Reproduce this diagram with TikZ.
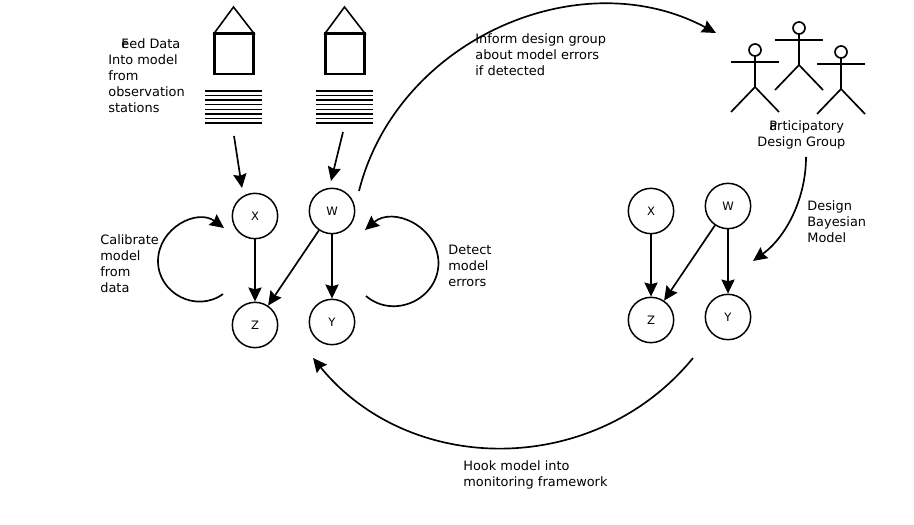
\documentclass[tikz,border=0pt]{standalone}
\usepackage{fontspec}
\setmainfont{DejaVu Sans}
\usetikzlibrary{arrows.meta}
\tikzset{varnode/.style={draw,circle,line width=0.85pt,minimum size=25.8pt,inner sep=0pt,font=\fontsize{6.6}{8}\selectfont},
  flowarrow/.style={-{Stealth[length=8pt,width=7.5pt,inset=1pt]},line width=0.95pt},
  infotext/.style={anchor=north west,align=left,inner sep=0pt,font=\fontsize{7.35}{9.1}\selectfont}}
\newcommand{\drawhouse}[1]{
\pgfmathsetmacro{\hx}{#1}
\draw[line width=0.9pt] (\hx-0.5,-7) -- (\hx-20,-33.5) -- (\hx+20,-33.5) -- cycle;
\draw[line width=1.3pt] (\hx-19.5,-33.5) rectangle (\hx+19.5,-74);
    \foreach \i in {0,1,...,7} {
      \draw[line width=0.8pt] (\hx-29,-91-4.57*\i) -- (\hx+28,-91-4.57*\i);
    }
}
\newcommand{\drawperson}[2]{
\pgfmathsetmacro{\px}{#1}
\pgfmathsetmacro{\py}{#2}
\draw[line width=0.95pt] (\px,\py) circle (6);
\draw[line width=0.95pt] (\px,\py-6) -- (\px,\py-37);
\draw[line width=0.95pt] (\px-24,\py-12) -- (\px+24,\py-12);
\draw[line width=0.95pt] (\px-24,\py-62) -- (\px,\py-37) -- (\px+24,\py-62);
}

\begin{document}
\begin{tikzpicture}[x=0.2mm,y=0.2mm]
	\useasboundingbox (0,0) rectangle (914,-525);
	\drawhouse{234}
	\drawhouse{345}
	\drawperson{755}{-50}
	\drawperson{799}{-28}
	\drawperson{841}{-52}
	% left network
	\node[varnode] (X) at (255,-216) {X};
	\node[varnode] (W) at (332,-211) {W};
	\node[varnode] (Z) at (255,-325) {Z};
	\node[varnode] (Y) at (332,-322) {Y};
	% right network
	\node[varnode] (X2) at (651,-211) {X};
	\node[varnode] (W2) at (728,-206) {W};
	\node[varnode] (Z2) at (651,-320) {Z};
	\node[varnode] (Y2) at (728,-317) {Y};
	\draw[flowarrow] (X) -- (Z);
	\draw[flowarrow] (W) -- (Z);
	\draw[flowarrow] (W) -- (Y);
	\draw[flowarrow] (X2) -- (Z2);
	\draw[flowarrow] (W2) -- (Z2);
	\draw[flowarrow] (W2) -- (Y2);
	% free ends
	\coordinate (feedXstart) at (234,-136);
	\coordinate (feedXend) at (242,-188);
	\coordinate (feedWstart) at (343,-132);
	\coordinate (feedWend) at (331,-181);
	\coordinate (informstart) at (359,-191);
	\coordinate (informend) at (716,-33);
	\coordinate (designstart) at (806,-157);
	\coordinate (designend) at (753,-261);
	\coordinate (hookstart) at (693,-358);
	\coordinate (hookend) at (313,-358);
	\coordinate (calibstart) at (223,-294);
	\coordinate (calibmid) at (158,-261);
	\coordinate (calibend) at (224,-228);
	\coordinate (detectstart) at (366,-296);
	\coordinate (detectmid) at (438.5,-263);
	\coordinate (detectend) at (365,-230);
	\draw[flowarrow] (feedXstart) -- (feedXend);
	\draw[flowarrow] (feedWstart) -- (feedWend);
	\draw[flowarrow] (informstart) to[bend left=52,looseness=1.02] (informend);
	\draw[flowarrow] (designstart) to[bend left=27,looseness=0.9] (designend);
	\draw[flowarrow] (hookstart) to[bend left=50.7,looseness=1.04] (hookend);
	\draw[flowarrow] (calibstart) to[bend left=63,looseness=1.15] (calibmid) to[bend left=63,looseness=1.15] (calibend);
	\draw[flowarrow] (detectstart) to[bend right=65,looseness=1.17] (detectmid) to[bend right=65,looseness=1.17] (detectend);
	% labels
	\node[infotext] (feedlabel) at (108,-38.5) {\hspace*{7.4pt}F\kern-.575em eed Data\\Into model\\from\\observation\\stations};
	\node[infotext] (informlabel) at (475,-33.5) {Inform design group\\about model errors\\if detected};
	\node[infotext] (calibratelabel) at (100,-234.5) {Calibrate\\model\\from\\data};
	\node[infotext] (detectlabel) at (448,-244.5) {Detect\\model\\errors};
	\node[infotext] (grouplabel) at (757,-120) {\hspace*{6.8pt}P\kern-.603em articipatory\\Design Group};
	\node[infotext] (bayeslabel) at (807,-200) {Design\\Bayesian\\Model};
	\node[infotext] (hooklabel) at (463,-460) {Hook model into\\monitoring framework};
\end{tikzpicture}
\end{document}
